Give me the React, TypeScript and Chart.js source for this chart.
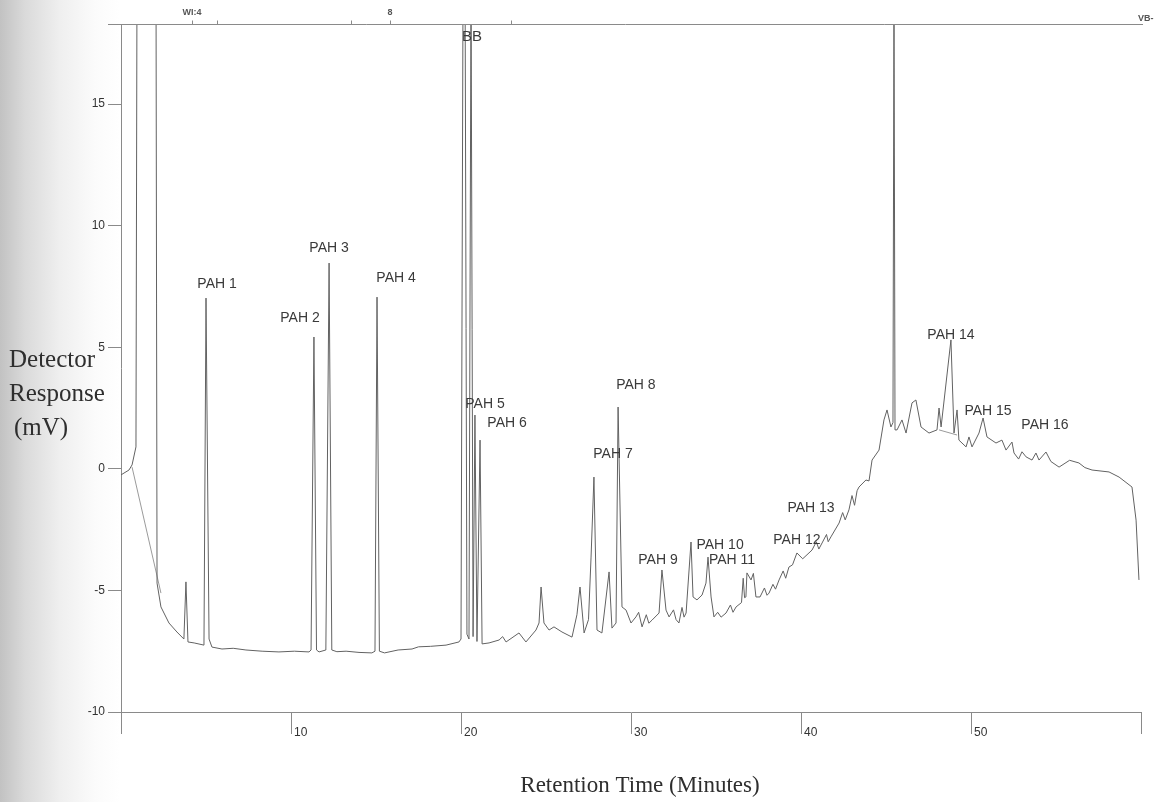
import React, { useEffect, useRef } from "react";
import { Chart, registerables } from "chart.js";

Chart.register(...registerables);

// Chromatogram trace: [retention time (min), detector response (mV)]
const tracePoints: [number, number][] = [
  [0, -0.25], [0.47, -0.05], [0.65, 0.16], [0.88, 0.9], [0.94, 20], [2.06, 20],
  [2.12, -4.7], [2.35, -5.68], [2.82, -6.34], [3.29, -6.71], [3.7, -7.0], [3.82, -4.65],
  [3.94, -7.12], [4.3, -7.16], [4.88, -7.25], [5.0, 7.02], [5.18, -7.0], [5.35, -7.33],
  [5.94, -7.41], [6.6, -7.38], [7.35, -7.45], [8.3, -7.5], [9.29, -7.53], [10.2, -7.5],
  [11.06, -7.53], [11.18, -7.45], [11.35, 5.42], [11.5, -7.45], [11.65, -7.53], [12.05, -7.45],
  [12.24, 8.46], [12.4, -7.45], [12.7, -7.52], [13.24, -7.5], [14.0, -7.55], [14.76, -7.57],
  [14.94, -7.5], [15.06, 7.06], [15.2, -7.5], [15.5, -7.57], [16.3, -7.45], [17.12, -7.41],
  [17.5, -7.32], [18.2, -7.3], [19.12, -7.25], [19.88, -7.12], [20.0, -7.0], [20.12, 20],
  [20.24, 20], [20.35, -6.8], [20.47, -7.0], [20.59, 20], [20.71, -6.9], [20.82, 2.21],
  [20.94, -7.1], [21.12, 1.18], [21.24, -7.2], [21.65, -7.16], [22.24, -7.04], [22.45, -6.9],
  [22.65, -7.12], [23.41, -6.75], [23.82, -7.12], [24.41, -6.63], [24.59, -6.34], [24.71, -4.86],
  [24.88, -6.34], [25.18, -6.63], [25.47, -6.5], [25.94, -6.71], [26.53, -6.92], [26.82, -6.0],
  [27.0, -4.86], [27.24, -6.75], [27.5, -6.2], [27.65, -3.63], [27.82, -0.34], [28.0, -6.63],
  [28.29, -6.75], [28.71, -4.24], [28.88, -6.55], [29.12, -6.34], [29.24, 2.54], [29.47, -5.68],
  [29.71, -5.81], [30.0, -6.34], [30.29, -6.09], [30.45, -5.9], [30.65, -6.5], [30.9, -6.0],
  [31.05, -6.35], [31.24, -6.22], [31.65, -5.93], [31.82, -4.16], [32.06, -5.81], [32.24, -6.09],
  [32.5, -5.8], [32.65, -6.2], [32.82, -6.34], [33.0, -5.7], [33.12, -6.1], [33.24, -5.93],
  [33.53, -3.01], [33.65, -5.27], [33.88, -5.39], [34.18, -5.19], [34.41, -4.7], [34.53, -3.63],
  [34.71, -5.27], [34.88, -6.09], [35.1, -5.9], [35.3, -6.1], [35.59, -5.93], [35.85, -5.6],
  [36.0, -5.9], [36.18, -5.68], [36.5, -5.5], [36.6, -4.5], [36.68, -5.3], [36.76, -5.27],
  [36.82, -4.28], [37.06, -4.57], [37.2, -4.3], [37.35, -5.27], [37.59, -5.27], [37.85, -4.9],
  [38.0, -5.2], [38.12, -5.11], [38.35, -4.75], [38.5, -4.95], [38.71, -4.57], [38.95, -4.2],
  [39.1, -4.5], [39.29, -4.04], [39.5, -3.95], [39.76, -3.46], [40.1, -3.7], [40.65, -3.34],
  [40.9, -3.0], [41.05, -3.3], [41.24, -3.05], [41.5, -2.7], [41.6, -3.0], [41.76, -2.8],
  [42.24, -2.23], [42.45, -1.8], [42.6, -2.1], [42.82, -1.69], [43.0, -1.1], [43.15, -1.5],
  [43.3, -0.9], [43.41, -0.75], [43.82, -0.46], [44.0, -0.5], [44.18, 0.36], [44.59, 0.77],
  [44.88, 2.01], [45.06, 2.42], [45.29, 1.72], [45.41, 1.9], [45.47, 20], [45.53, 1.6],
  [45.65, 1.6], [45.94, 2.01], [46.18, 1.47], [46.53, 2.71], [46.76, 2.83], [47.06, 1.72],
  [47.53, 1.47], [48.0, 1.6], [48.12, 2.5], [48.24, 1.72], [48.82, 5.3], [49.0, 1.47],
  [49.18, 2.42], [49.29, 1.18], [49.71, 0.9], [49.88, 1.31], [50.06, 0.9], [50.47, 1.47],
  [50.71, 2.09], [50.94, 1.31], [51.47, 1.06], [51.82, 1.18], [52.06, 0.77], [52.41, 1.1],
  [52.53, 0.65], [52.8, 0.4], [53.0, 0.7], [53.24, 0.49], [53.59, 0.36], [53.82, 0.65],
  [54.0, 0.36], [54.41, 0.69], [54.7, 0.3], [55.18, 0.07], [55.8, 0.35], [56.35, 0.24],
  [56.7, 0.05], [57.12, -0.05], [58.12, -0.13], [58.71, -0.34], [59.47, -0.75], [59.71, -2.11],
  [59.88, -4.57],
];

// Integration baseline segments drawn by the data system
const baselineSegments: [number, number][][] = [
  [[0.65, 0.07], [2.35, -5.11]],
  [[48.12, 1.6], [49.18, 1.39]],
];

// Peak annotations
const peakLabels = [
  "PAH 1", "PAH 2", "PAH 3", "PAH 4", "PAH 5", "PAH 6", "PAH 7", "PAH 8",
  "PAH 9", "PAH 10", "PAH 11", "PAH 12", "PAH 13", "PAH 14", "PAH 15", "PAH 16",
];
const peakLabelTimes = [
  5.65, 10.53, 12.24, 16.18, 21.41, 22.71, 28.94, 30.29,
  31.59, 35.24, 35.94, 39.76, 40.59, 48.82, 51.0, 54.35,
];
const peakLabelValues = [
  7.6, 6.2, 9.08, 7.85, 2.66, 1.88, 0.61, 3.45,
  -3.75, -3.13, -3.75, -2.93, -1.61, 5.5, 2.38, 1.8,
];

// Event marks along the top of the trace
const eventTexts = ["WI:4", "8", "BB"];
const eventTextTimes = [4.18, 15.82, 20.65];
const eventMarkTimes = [4.18, 5.65, 13.53, 15.82, 22.94];

const xTickStep = 10;
const yTickStep = 5;
const xMin = 0;
const xMax = 60;
const yMin = -10;
const yMax = 18.29;

const overlayPlugin = {
  id: "overlay",
  afterDraw(chart: any) {
    const { ctx, chartArea, scales } = chart;
    const xs = scales.x;
    const ys = scales.y;
    ctx.save();
    ctx.strokeStyle = "#8a8a8a";
    ctx.lineWidth = 1;
    ctx.beginPath();
    const ty = Math.round(chartArea.top) + 0.5;
    ctx.moveTo(chartArea.left - 13, ty);
    ctx.lineTo(chartArea.right + 2, ty);
    eventMarkTimes.forEach((t) => {
      const x = Math.round(xs.getPixelForValue(t)) + 0.5;
      ctx.moveTo(x, ty);
      ctx.lineTo(x, ty - 4);
    });
    ctx.stroke();

    ctx.fillStyle = "#555";
    ctx.textAlign = "center";
    ctx.textBaseline = "middle";
    ctx.font = "bold 9px 'Liberation Sans', Arial, sans-serif";
    ctx.fillText(eventTexts[0], xs.getPixelForValue(eventTextTimes[0]), 13);
    ctx.fillText(eventTexts[1], xs.getPixelForValue(eventTextTimes[1]), 13);
    ctx.textAlign = "left";
    ctx.fillText("VB-", chartArea.right - 3, 19);

    ctx.textAlign = "center";
    ctx.fillStyle = "#3a3a3a";
    ctx.font = "15px 'Liberation Sans', Arial, sans-serif";
    ctx.fillText(eventTexts[2], xs.getPixelForValue(eventTextTimes[2]), ys.getPixelForValue(17.75));

    ctx.font = "14px 'Liberation Sans', Arial, sans-serif";
    peakLabels.forEach((lab, i) => {
      ctx.fillText(lab, xs.getPixelForValue(peakLabelTimes[i]), ys.getPixelForValue(peakLabelValues[i]));
    });

    ctx.fillStyle = "#2e2e2e";
    ctx.font = "25px 'Liberation Serif', 'Times New Roman', serif";
    ctx.textAlign = "left";
    ctx.fillText("Detector", 9, 360);
    ctx.fillText("Response", 9, 394);
    ctx.fillText("(mV)", 14, 428);

    ctx.font = "23px 'Liberation Serif', 'Times New Roman', serif";
    ctx.textAlign = "center";
    ctx.fillText("Retention Time (Minutes)", 640, 786);
    ctx.restore();
  },
};

export default function App() {
  const canvasRef = useRef<HTMLCanvasElement | null>(null);

  useEffect(() => {
    if (!canvasRef.current) return;
    const datasets: any[] = [
      {
        label: "Chromatogram",
        data: tracePoints.map(([x, y]) => ({ x, y })),
        borderColor: "#626262",
        borderWidth: 1,
        pointRadius: 0,
        tension: 0,
        fill: false,
      },
    ];
    const baseData: any[] = [];
    baselineSegments.forEach((seg, i) => {
      seg.forEach(([x, y]) => baseData.push({ x, y }));
      if (i < baselineSegments.length - 1) baseData.push({ x: seg[1][0] + 0.01, y: null });
    });
    datasets.push({
      label: "Baseline",
      data: baseData,
      borderColor: "#8f8f8f",
      borderWidth: 0.9,
      pointRadius: 0,
      spanGaps: false,
      fill: false,
    });

    const chart = new Chart(canvasRef.current, {
      type: "line",
      data: { datasets },
      plugins: [overlayPlugin],
      options: {
        animation: false,
        responsive: false,
        devicePixelRatio: 1,
        layout: { padding: { left: 0, right: 13, top: 24, bottom: 0 } },
        plugins: { legend: { display: false }, tooltip: { enabled: false } },
        scales: {
          x: {
            type: "linear",
            min: xMin,
            max: xMax,
            afterFit: (s: any) => {
              s.height = 90;
            },
            border: { display: true, color: "#8a8a8a", width: 1 },
            grid: { drawOnChartArea: false, drawTicks: true, tickLength: 22, color: "#8a8a8a" },
            ticks: {
              stepSize: xTickStep,
              align: "start",
              labelOffset: 3,
              padding: -9,
              color: "#333",
              font: { family: "'Liberation Sans', Arial, sans-serif", size: 12 },
              maxRotation: 0,
              callback: (v: any) => (v === xMin || v === xMax ? "" : String(v)),
            },
          },
          y: {
            type: "linear",
            min: yMin,
            max: yMax,
            afterFit: (s: any) => {
              s.width = 121;
            },
            border: { display: true, color: "#8a8a8a", width: 1 },
            grid: { drawOnChartArea: false, drawTicks: true, tickLength: 13, color: "#8a8a8a" },
            ticks: {
              stepSize: yTickStep,
              padding: 3,
              color: "#333",
              font: { family: "'Liberation Sans', Arial, sans-serif", size: 12 },
              callback: (v: any) => (Math.abs(v % yTickStep) < 1e-9 ? String(v) : ""),
            },
          },
        },
      } as any,
    });
    return () => chart.destroy();
  }, []);

  return (
    <div
      style={{
        position: "absolute",
        left: 0,
        top: 0,
        width: 1154,
        height: 802,
        background:
          "linear-gradient(to right, #c2c2c2 0px, #dadada 25px, #efefef 60px, #fbfbfb 95px, #ffffff 120px)",
      }}
    >
      <canvas ref={canvasRef} width={1154} height={802} style={{ display: "block" }} />
    </div>
  );
}
